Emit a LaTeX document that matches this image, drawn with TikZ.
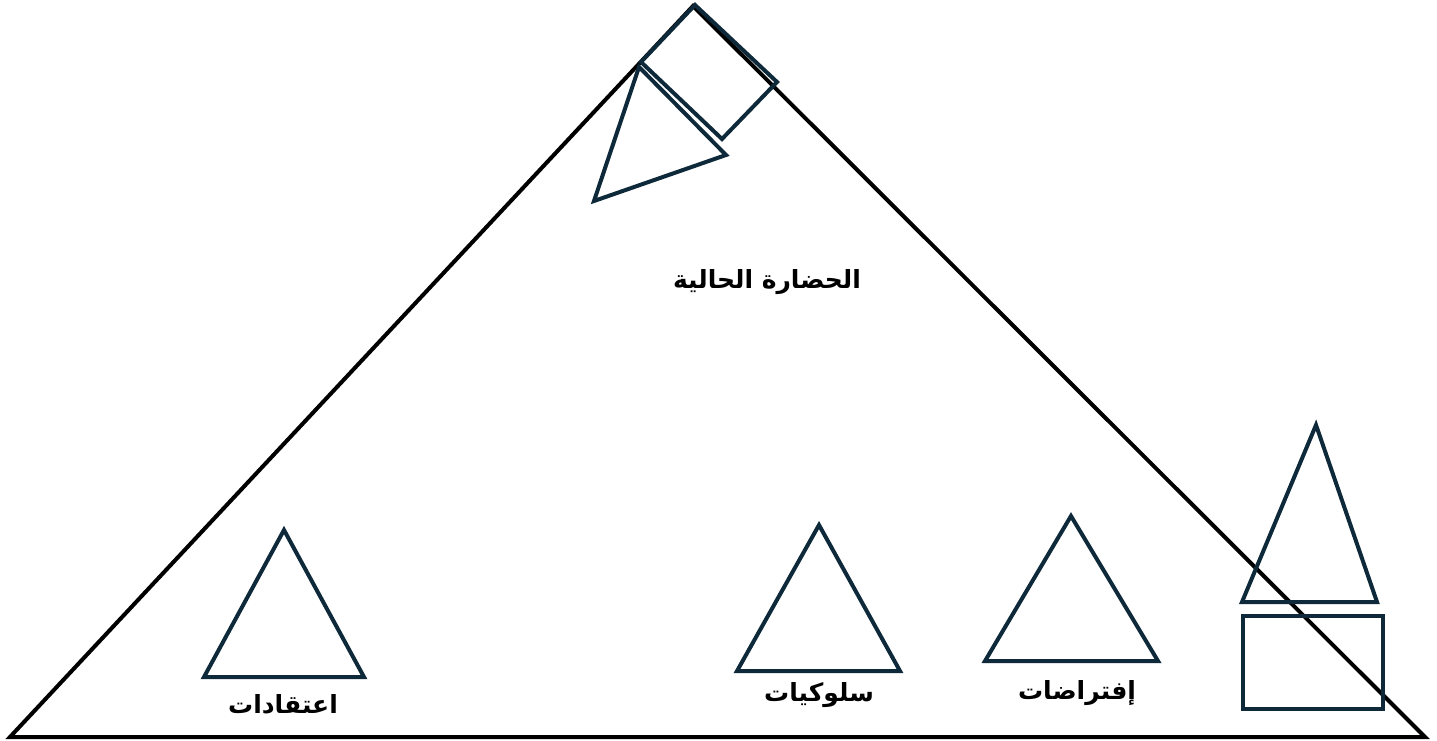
\documentclass[tikz,border=0pt]{standalone}
\usepackage{fontspec}
\newfontfamily\arabicfont[Script=Arabic]{DejaVu Sans}
\TeXXeTstate=1
\definecolor{navy}{HTML}{0E2A3A}
\begin{document}
\begin{tikzpicture}[x=1pt,y=-1pt,
  big/.style={draw=black,line width=4pt,line join=miter},
  shp/.style={draw=navy,line width=4pt,line join=miter},
  lbl/.style={font=\arabicfont\bfseries\fontsize{25}{29}\selectfont,inner sep=0pt}]
\useasboundingbox (0,0) rectangle (1437,741);
% main triangle
\coordinate (bl) at (10,737);
\coordinate (ap) at (693,6);
\coordinate (br) at (1425,737);
\draw[big] (bl) -- (ap) -- (br) -- cycle;
% top rotated square and triangle
\draw[shp] (695,5) -- (777,82) -- (722,139) -- (641,62) -- cycle;
\draw[shp] (639,67) -- (726,155) -- (594,201) -- cycle;
% inner triangles
\draw[shp] (284,530) -- (364,677) -- (204,677) -- cycle;
\draw[shp] (819,525) -- (900,671) -- (737,671) -- cycle;
\draw[shp] (1071,516) -- (1158,661) -- (985,661) -- cycle;
% right triangle and rectangle
\draw[shp] (1316,425) -- (1377,602) -- (1242,602) -- cycle;
\draw[shp] (1243,616) rectangle (1383,709);
% labels
\node[lbl] (title) at (767,282) {\beginR الحضارة الحالية\endR};
\node[lbl] (l1) at (283,704) {\beginR اعتقادات\endR};
\node[lbl] (l2) at (819,695) {\beginR سلوكيات\endR};
\node[lbl] (l3) at (1077,693) {\beginR إفتراضات\endR};
\end{tikzpicture}
\end{document}
